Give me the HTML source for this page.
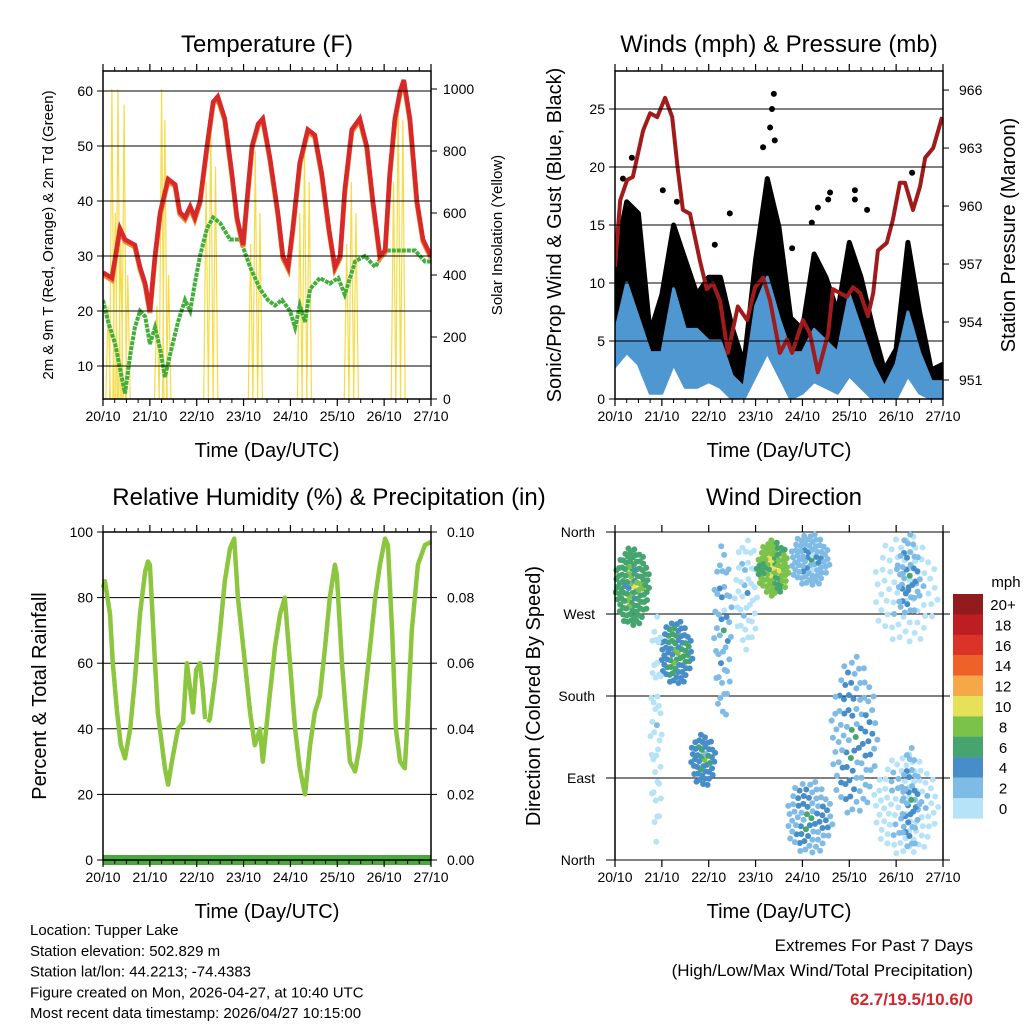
<!DOCTYPE html>
<html><head><meta charset="utf-8"><style>
body{margin:0;background:#fff}
svg{display:block;font-family:"Liberation Sans",sans-serif}
</style></head><body>
<svg id="c" width="1024" height="1024" viewBox="0 0 1024 1024"></svg>
<script>
// ---------- DATA ----------
const dayLabels=["20/10","21/10","22/10","23/10","24/10","25/10","26/10","27/10"];
const tempDays=[0,.19,.36,.47,.68,.79,.90,1.0,1.11,1.22,1.39,1.54,1.64,1.75,1.86,1.96,2.07,2.22,2.35,2.45,2.60,2.75,2.86,2.99,3.07,3.18,3.31,3.41,3.56,3.73,3.84,3.95,4.05,4.20,4.37,4.52,4.67,4.82,4.95,5.06,5.16,5.31,5.48,5.63,5.76,5.91,6.02,6.12,6.23,6.34,6.42,6.55,6.70,6.83,7.0];
const tempRed=[27,26,35,33,32,28,25,20,30,38,44,43,38,37,39,37,40,50,58,59,55,45,37,32,40,50,54,55,48,38,30,28,35,47,53,52,45,35,28,30,42,53,55,50,40,30,31,45,55,60,62,55,40,33,30];
const tdDays=[0,.11,.26,.40,.47,.58,.68,.79,.90,1.0,1.11,1.22,1.32,1.43,1.60,1.75,1.86,1.96,2.07,2.22,2.35,2.50,2.71,2.93,3.14,3.35,3.52,3.67,3.82,3.99,4.10,4.20,4.31,4.42,4.63,4.84,5.02,5.16,5.38,5.59,5.81,6.02,6.44,6.66,6.87,7.0];
const tdGreen=[22,18,14,8,5,12,17,20,19,14,17,13,8,12,18,22,20,25,30,35,37,36,33,33,28,24,22,21,22,20,17,21,18,24,26,25,26,23,29,30,28,31,31,31,29,29];
const solarDays=[.11,.19,.26,.32,.38,.45,.53,1.15,1.25,1.32,1.4,2.2,2.3,2.4,3.15,3.25,3.35,4.2,4.3,4.4,5.2,5.3,5.4,6.2,6.3,6.4];
const solarVals=[300,1000,600,1000,500,950,400,300,1000,900,400,700,900,750,500,800,600,600,800,700,500,700,600,700,1000,900];
const tempTicks=[10,20,30,40,50,60];
const solarTicks=[0,200,400,600,800,1000];

const windDays=[0,.25,.5,.75,1,1.25,1.5,1.75,2,2.25,2.5,2.75,3,3.25,3.5,3.75,4,4.25,4.5,4.75,5,5.25,5.5,5.75,6,6.25,6.5,6.75,7];
const gustHi=[12,17,16,5.7,9,15,12,9,10.5,10.5,6.2,3,12,19,14.8,7,6,12.5,10.5,7.5,13.5,10.5,6.2,2.5,4.3,13.5,7.5,2.5,3];
const gustLo=[6.8,5.5,5.7,2,2,7.4,4,3,4.3,3.5,.5,.3,4,9,6,1,2,4.3,3.5,2,4.3,3.5,2,.5,1,4.3,2,.5,.5];
const windHi=[5.7,10,7,4,4,9.5,6,6,5,5,2,1,8,10.5,7,4,4,6,5,4,9,6,3,1,3,7.5,4,1.5,1.5];
const windLo=[2.8,4,3,.5,.5,3,1,1,1.5,1,0,0,2,4,2,0,.5,1.5,1,.5,2,1,0,0,0,2,.5,0,0];
const gustOutDays=[.36,.17,1.32,2.45,2.13,3.16,3.35,3.39,3.31,3.41,4.59,5.12,5.12,4.33,4.55,6.34,5.38,4.2,3.78,1.02];
const gustOutVals=[20.8,19,17,16,13.3,21.7,25,26.3,23.4,22.3,17.8,18,17.2,16.5,17.2,19.5,16.3,15.2,13,18];
const presDays=[0,.11,.26,.38,.60,.75,.90,1.07,1.22,1.34,1.45,1.60,1.81,1.96,2.09,2.24,2.41,2.62,2.82,2.99,3.16,3.31,3.52,3.67,3.78,4.01,4.16,4.33,4.55,4.65,4.95,5.08,5.23,5.40,5.51,5.61,5.80,5.93,6.08,6.19,6.36,6.51,6.62,6.79,6.98];
const pressure=[956.85,960.3,961.35,961.5,963.9,964.8,964.6,965.6,964.6,961.9,959.8,959.6,957.2,955.7,956.0,955.1,952.4,954.8,954.1,955.8,956.3,955.1,952.4,953.1,952.4,954.1,953.4,951.4,953.4,955.7,955.3,955.8,955.5,954.3,955.5,957.7,958.1,959.3,961.2,961.2,959.8,961.0,962.5,963.0,964.6];
const windTicks=[0,5,10,15,20,25];
const presTicks=[951,954,957,960,963,966];

const rhDays=[0,.04,.15,.21,.30,.38,.47,.58,.68,.79,.90,.96,1.0,1.11,1.17,1.26,1.32,1.39,1.47,1.60,1.71,1.79,1.86,1.92,1.99,2.07,2.13,2.18];
const rhVals=[83,85,75,60,45,35,31,40,55,75,88,91,90,60,45,35,28,23,30,40,42,60,52,45,58,60,52,43];
const rhDays2=[2.24,2.28,2.39,2.50,2.60,2.71,2.80,2.88,3.03,3.14,3.24,3.35,3.41,3.52,3.67,3.78,3.88,3.99,4.10,4.20,4.31,4.42,4.52,4.63,4.74,4.84,4.95,4.99,5.10,5.21,5.27,5.38,5.48,5.55,5.70,5.81,5.91,6.02,6.08,6.17,6.25,6.34,6.44,6.49,6.59,6.72,6.87,7.0];
const rhVals2=[42,43,55,70,85,95,98,80,60,45,35,40,30,45,65,75,80,60,40,28,20,35,45,50,65,80,90,87,60,40,30,27,35,45,65,80,90,98,96,70,40,30,28,40,70,90,96,97];
const rhTicks=[0,20,40,60,80,100];
const rainTicks=["0.00","0.02","0.04","0.06","0.08","0.10"];

const dirLabels=["North","East","South","West","North"];
const dirTicks=[0,90,180,270,360];
const clDay=[.37,1.31,1.88,2.3,2.8,3.37,4.16,4.15,5.1,6.2,6.2,.88,6.26,6.3];
const clDir=[300,227,110,252,293,320,329,46,135,296,60,148,312,66];
const clSpanDay=[.75,.7,.55,.4,.5,.7,.85,1.0,1.0,1.4,1.4,.25,.5,.4];
const clSpanDir=[88,73,59,198,130,62,60,84,180,125,114,268,95,120];
const clSpeed=[7,6,5,3,1,8.5,3,4,4,1,1.5,0,4,4];
const clCount=[100,70,45,45,40,75,70,70,90,70,90,40,35,35];
const cbLabels=["20+","18","16","14","12","10","8","6","4","2","0"];
const cbColors=["#931a1d","#bd1e24","#dc3328","#ee6128","#f5a847","#e6e158","#7bc24a","#46a56e","#478ec8","#80bbe6","#b6e3f7"];

// ---------- HELPERS ----------
const S=document.getElementById('c');const NS="http://www.w3.org/2000/svg";
function el(t,a,p){const e=document.createElementNS(NS,t);for(const k in a)e.setAttribute(k,a[k]);(p||S).appendChild(e);return e;}
function txt(x,y,s,size,anchor,extra,p){const e=el('text',Object.assign({x:x,y:y,'font-size':size,'text-anchor':anchor||'middle',fill:'#000'},extra||{}),p);e.textContent=s;return e;}
function panel(name){const g=el('g',{});return g;}
const W=328,H=328;
function frame(g,x0,y0){
  el('rect',{x:x0,y:y0,width:W,height:H,fill:'none',stroke:'#000','stroke-width':1.5},g);
  for(let d=0;d<=7;d++){const x=x0+d*W/7;
    el('line',{x1:x,y1:y0+H,x2:x,y2:y0+H+7,stroke:'#000','stroke-width':1.2},g);
    el('line',{x1:x,y1:y0,x2:x,y2:y0-7,stroke:'#000','stroke-width':1.2},g);
    const t=txt(x,y0+H+22,dayLabels[d],14,'middle',{},g);
    
    if(d<7)for(let m=1;m<4;m++){const xm=x+m*W/28;el('line',{x1:xm,y1:y0+H,x2:xm,y2:y0+H+4,stroke:'#000'},g);el('line',{x1:xm,y1:y0,x2:xm,y2:y0-4,stroke:'#000'},g);}
  }
  const t=txt(x0+W/2,y0+H+58,'Time (Day/UTC)',20,'middle',{},g);
  
}
function gridY(g,x0,y,left,right){el('line',{x1:x0-(left||0),y1:y,x2:x0+W+(right||0),y2:y,stroke:'#000','stroke-width':1},g);}
function path(pts){return pts.map((p,i)=>(i?'L':'M')+p[0].toFixed(1)+','+p[1].toFixed(1)).join('');}

// ---------- PANEL 1: TEMPERATURE ----------
{const x0=103,y0=71;const g=panel('temperature-chart');
 const X=d=>x0+d*W/7, Y=v=>421-5.5*v, YS=v=>399-v*0.31;
 const cp=el('clipPath',{id:'cp1'},g);el('rect',{x:x0,y:y0,width:W,height:H},cp);
 const sg=el('g',{'clip-path':'url(#cp1)'},g);
 solarDays.forEach((d,i)=>{const p=el('path',{d:path([[X(d-.05),YS(0)],[X(d),YS(solarVals[i])],[X(d+.05),YS(0)]]),fill:'none',stroke:'#f5dc4a','stroke-width':1.2},sg);
   });
 tempTicks.forEach(v=>{gridY(g,x0,Y(v));el('line',{x1:x0-6,y1:Y(v),x2:x0,y2:Y(v),stroke:'#000'},g);
   const t=txt(x0-10,Y(v)+5,String(v),14,'end',{},g);});
 solarTicks.forEach(v=>{el('line',{x1:x0+W,y1:YS(v),x2:x0+W+6,y2:YS(v),stroke:'#000'},g);
   const t=txt(x0+W+12,YS(v)+5,String(v),14,'start',{},g);});
 const td=tdDays.map((d,i)=>[X(d),Y(tdGreen[i])]);
 const tg=el('path',{d:path(td),fill:'none',stroke:'#44ae3c','stroke-width':4,'stroke-dasharray':'4 1'},sg);
 
 const tp=tempDays.map((d,i)=>[X(d),Y(tempRed[i])]);
 const to=el('path',{d:path(tp.map(p=>[p[0],p[1]+2])),fill:'none',stroke:'#f08a2c','stroke-width':5},sg);
 
 const tr=el('path',{d:path(tp),fill:'none',stroke:'#d7282a','stroke-width':4.5},sg);
 
 frame(g,x0,y0);
 let t=txt(x0+W/2,y0-19,'Temperature (F)',24,'middle',{},g);
 t=txt(0,0,'2m & 9m T (Red, Orange) & 2m Td (Green)',15,'middle',{transform:'translate(53,235) rotate(-90)'},g);
 t=txt(0,0,'Solar Insolation (Yellow)',15,'middle',{transform:'translate(502,235) rotate(-90)'},g);
}

// ---------- PANEL 2: WINDS ----------
{const x0=615,y0=71;const g=panel('winds-pressure-chart');
 const X=d=>x0+d*W/7, Y=v=>399-11.6*v, YP=v=>380-(v-951)*19.33;
 const cp=el('clipPath',{id:'cp2'},g);el('rect',{x:x0,y:y0,width:W,height:H},cp);
 const sg=el('g',{'clip-path':'url(#cp2)'},g);
 windTicks.forEach(v=>{gridY(g,x0,Y(v));el('line',{x1:x0-6,y1:Y(v),x2:x0,y2:Y(v),stroke:'#000'},g);
   const t=txt(x0-10,Y(v)+5,String(v),14,'end',{},g);});
 presTicks.forEach(v=>{el('line',{x1:x0+W,y1:YP(v),x2:x0+W+6,y2:YP(v),stroke:'#000'},g);
   const t=txt(x0+W+16,YP(v)+5,String(v),14,'start',{},g);});
 const up=windDays.map((d,i)=>[X(d),Y(gustHi[i])]), lo=windDays.map((d,i)=>[X(d),Y(gustLo[i])]).reverse();
 const ga=el('path',{d:path(up.concat(lo))+'Z',fill:'#000',stroke:'#000','stroke-width':5,'stroke-linejoin':'round'},sg);
 
 gustOutDays.forEach((d,i)=>{const c=el('circle',{cx:X(d),cy:Y(gustOutVals[i]),r:3,fill:'#000'},sg);});
 const wu=windDays.map((d,i)=>[X(d),Y(windHi[i])]), wl=windDays.map((d,i)=>[X(d),Y(windLo[i])]).reverse();
 const wa=el('path',{d:path(wu.concat(wl))+'Z',fill:'#4f97d0',stroke:'#4f97d0','stroke-width':3,'stroke-linejoin':'round'},sg);
 
 const pl=el('path',{d:path(presDays.map((d,i)=>[X(d),YP(pressure[i])])),fill:'none',stroke:'#a11a1c','stroke-width':4,'stroke-linejoin':'round'},sg);
 
 frame(g,x0,y0);
 let t=txt(x0+W/2,y0-19,'Winds (mph) & Pressure (mb)',24,'middle',{},g);
 t=txt(0,0,'Sonic/Prop Wind & Gust (Blue, Black)',20,'middle',{transform:'translate(561,235) rotate(-90)'},g);
 t=txt(0,0,'Station Pressure (Maroon)',20,'middle',{transform:'translate(1015,235) rotate(-90)'},g);
}

// ---------- PANEL 3: RH ----------
{const x0=103,y0=532;const g=panel('humidity-precip-chart');
 const X=d=>x0+d*W/7, Y=v=>860-3.28*v;
 rhTicks.forEach((v,i)=>{gridY(g,x0,Y(v));el('line',{x1:x0-6,y1:Y(v),x2:x0,y2:Y(v),stroke:'#000'},g);
   let t=txt(x0-10,Y(v)+5,String(v),14,'end',{},g);
   el('line',{x1:x0+W,y1:Y(v),x2:x0+W+6,y2:Y(v),stroke:'#000'},g);
   t=txt(x0+W+16,Y(v)+5,rainTicks[i],14,'start',{},g);});
 [[rhDays,rhVals],[rhDays2,rhVals2]].forEach(s=>{const p=el('path',{d:path(s[0].map((d,i)=>[X(d),Y(s[1][i])])),fill:'none',stroke:'#8cc63e','stroke-width':4.5,'stroke-linejoin':'round'},g);
   });
 const r=el('rect',{x:x0,y:855,width:W,height:10,fill:'#4aa83c'},g);
 frame(g,x0,y0);
 let t=txt(x0+W/2+62,y0-27,'Relative Humidity (%) & Precipitation (in)',24,'middle',{},g);
 t=txt(0,0,'Percent & Total Rainfall',20,'middle',{transform:'translate(46,696) rotate(-90)'},g);
}

// ---------- PANEL 4: WIND DIRECTION ----------
{const x0=615,y0=532;const g=panel('wind-direction-chart');
 const X=d=>x0+d*W/7, Y=v=>860-v*328/360;
 dirTicks.forEach((v,i)=>{gridY(g,x0,Y(v),9,7);
   const t=txt(x0-20,Y(v)+5,dirLabels[i],14,'end',{},g);});
 const cp=el('clipPath',{id:'cp4'},g);el('rect',{x:x0-2,y:y0-3,width:W+4,height:H+6},cp);
 const sg=el('g',{'clip-path':'url(#cp4)'},g);
 clDay.forEach((d,c)=>{const n=clCount[c];
   for(let k=0;k<n;k++){const rr=Math.sqrt((k+.5)/n), a=k*2.39996;
     const dd=d+Math.cos(a)*rr*clSpanDay[c]/2, dv=clDir[c]+Math.sin(a)*rr*clSpanDir[c]/2;
     let sp=clSpeed[c]+Math.cos(a*3)*(1-rr)*2.5-rr*1.5;sp=Math.max(0,Math.min(20,sp));
     const ci=10-Math.min(10,Math.round(sp/2));
     const p=el('circle',{cx:X(dd),cy:Y(Math.max(0,Math.min(360,dv))),r:3,fill:cbColors[ci]},sg);
     }
 });
 el('line',{x1:x0,y1:y0,x2:x0,y2:y0+H,stroke:'#000','stroke-width':1.5},g);
 el('line',{x1:x0+W,y1:y0,x2:x0+W,y2:y0+H,stroke:'#000','stroke-width':1.5},g);
 for(let d=0;d<=7;d++){const x=x0+d*W/7;
   el('line',{x1:x,y1:y0+H,x2:x,y2:y0+H+7,stroke:'#000','stroke-width':1.2},g);
   el('line',{x1:x,y1:y0,x2:x,y2:y0-7,stroke:'#000','stroke-width':1.2},g);
   const t=txt(x,y0+H+22,dayLabels[d],14,'middle',{},g);}
 let t=txt(x0+W/2,y0+H+58,'Time (Day/UTC)',20,'middle',{},g);
 t=txt(x0+W/2+5,y0-27,'Wind Direction',24,'middle',{},g);
 t=txt(0,0,'Direction (Colored By Speed)',20,'middle',{transform:'translate(540,696) rotate(-90)'},g);
 const lg=el('g',{},g);
 cbColors.forEach((c,i)=>{const r=el('rect',{x:953,y:594+i*20.4,width:30,height:20.6,fill:c},lg);
   const tt=txt(1003,594+i*20.4+16,cbLabels[i],15,'middle',{},lg);});
 t=txt(1006,587,'mph',15,'middle',{},lg);
}

// ---------- FOOTER ----------
{const g=el('g',{});
 ["Location: Tupper Lake","Station elevation: 502.829 m","Station lat/lon: 44.2213; -74.4383","Figure created on Mon, 2026-04-27, at 10:40 UTC","Most recent data timestamp: 2026/04/27 10:15:00"].forEach((s,i)=>{
   const t=txt(30,935+i*20.8,s,15,'start',{},g);});
 const e=el('g',{});
 let t=txt(973,951,'Extremes For Past 7 Days',17,'end',{},e);
 t=txt(973,976,'(High/Low/Max Wind/Total Precipitation)',17,'end',{},e);
 t=txt(973,1005,'62.7/19.5/10.6/0',17,'end',{fill:'#d0262c','font-weight':'bold'},e);
}
</script>
</body></html>
